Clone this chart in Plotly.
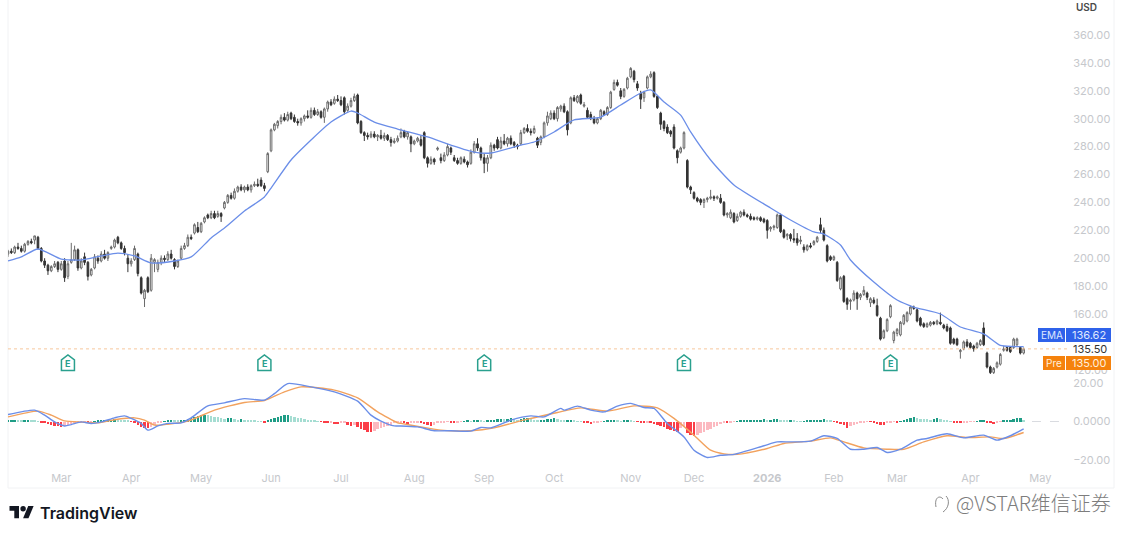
import plotly.graph_objects as go

# daily candles (USD)
opens = [
    203,205,204,208,207,205,210,212,213,215,
    207,198,195,191,194,197,192,198,187,197,
    199,206,193,201,197,188,193,200,198,203,
    200,207,208,215,211,207,200,196,199,203,
    186,171,186,177,197,192,197,200,199,203,
    199,194,200,207,209,215,218,222,219,226,
    231,229,232,230,232,236,240,245,243,248,
    251,249,251,249,252,253,256,252,262,277,
    292,295,298,301,299,304,301,298,297,300,
    302,301,306,303,305,301,307,312,311,314,
    313,315,306,309,313,317,298,290,288,287,
    289,287,288,286,288,285,283,284,287,291,
    287,287,282,284,285,290,272,268,271,278,
    272,270,274,279,272,270,268,271,269,268,
    276,282,279,272,268,272,281,285,279,284,
    282,286,283,281,282,290,293,291,290,286,
    283,287,297,300,304,300,307,309,305,297,
    315,312,317,309,306,303,300,297,300,305,
    303,308,321,326,320,316,322,330,334,325,
    318,315,322,330,333,316,304,298,294,291,
    294,277,276,279,270,251,247,243,242,240,
    242,243,244,243,243,240,231,229,232,227,
    230,233,231,230,229,228,229,228,227,221,
    222,222,231,220,216,217,214,214,212,208,
    206,209,210,212,224,220,209,201,199,197,
    178,187,171,169,170,175,172,174,175,168,
    170,166,157,143,148,158,141,146,145,153,
    155,160,165,163,157,153,151,152,154,153,
    154,152,151,150,142,142,133,135,140,139,
    137,136,138,150,132,122,118,122,124,134,
    136,136,136,138,136,132,
]
highs = [
    206,207,209,211,209,211,213,214,216,216,
    208,200,196,195,198,198,198,200,198,211,
    209,207,200,204,198,193,203,202,205,206,
    205,209,214,216,212,209,203,200,209,204,
    187,178,187,203,200,199,202,202,205,206,
    200,199,209,211,217,217,225,226,226,230,
    232,234,234,234,233,241,246,247,250,252,
    253,252,253,253,255,257,258,254,276,293,
    297,299,303,304,305,305,303,300,301,303,
    306,308,308,307,306,308,313,314,316,317,
    316,316,311,315,318,318,299,291,290,291,
    291,289,292,290,289,287,286,288,293,292,
    291,288,285,287,288,291,273,273,272,280,
    275,276,282,280,274,272,273,273,270,278,
    284,286,280,275,274,283,282,287,287,289,
    287,288,284,282,292,294,296,293,295,287,
    288,298,305,306,306,309,310,311,306,316,
    317,317,318,312,308,305,302,301,307,306,
    309,320,328,328,322,322,330,337,335,327,
    320,320,331,334,334,317,305,299,296,292,
    296,278,280,291,271,252,248,244,243,243,
    244,249,245,245,246,241,233,235,233,232,
    234,235,232,232,230,230,230,229,228,223,
    224,232,232,221,218,218,221,218,216,210,
    210,211,213,216,229,222,210,202,202,198,
    187,188,172,171,177,176,175,180,176,172,
    172,171,158,149,157,167,148,150,155,160,
    162,166,166,164,158,154,154,155,155,156,
    161,153,153,151,143,143,135,141,142,140,
    138,140,142,154,133,123,122,126,132,137,
    137,137,143,143,137,136,
]
lows = [
    201,203,203,206,204,204,209,210,210,206,
    197,193,188,190,193,190,191,183,185,196,
    198,191,192,195,184,187,192,196,197,199,
    198,206,207,210,206,202,190,194,198,187,
    174,165,175,176,190,190,195,197,198,199,
    192,193,199,206,208,213,217,218,218,225,
    228,228,228,229,226,235,239,242,242,247,
    248,247,248,247,251,251,251,248,261,276,
    291,293,296,298,298,299,297,295,295,298,
    300,300,302,302,300,297,305,309,310,312,
    309,303,305,308,312,296,289,284,285,286,
    286,284,285,284,284,280,282,283,286,286,
    285,276,281,283,280,271,265,267,267,277,
    268,269,273,274,269,267,267,268,265,267,
    275,277,270,261,262,271,277,278,278,281,
    280,281,279,278,281,289,290,288,289,279,
    281,286,295,299,299,298,305,304,288,296,
    312,311,310,308,300,299,296,296,299,302,
    302,307,320,323,314,315,321,329,326,320,
    307,312,321,329,315,307,292,291,289,287,
    278,268,275,278,250,246,242,240,238,236,
    240,242,241,242,239,230,229,228,225,226,
    229,230,229,227,227,227,226,225,214,219,
    220,221,218,214,213,212,211,209,210,204,
    205,207,209,211,218,212,197,198,198,183,
    177,168,163,163,169,163,170,173,170,165,
    167,158,141,142,147,157,139,144,144,152,
    154,159,163,154,151,150,150,151,152,152,
    152,149,147,138,138,137,128,134,136,135,
    133,135,137,137,121,117,117,121,123,133,
    133,132,135,137,131,131,
]
closes = [
    205,204,208,207,205,210,212,211,216,207,
    198,195,191,194,196,192,196,186,196,199,
    206,193,198,197,187,192,201,198,203,200,
    204,208,213,211,207,204,196,198,207,189,
    175,177,176,200,199,197,200,199,203,200,
    194,198,207,209,215,214,224,219,225,229,
    229,232,229,232,230,240,245,243,248,251,
    249,251,249,252,253,252,252,250,275,292,
    296,298,301,299,303,300,298,297,300,302,
    301,306,303,305,301,307,312,310,314,313,
    310,305,309,313,316,297,290,288,287,289,
    287,288,286,288,285,283,284,286,290,287,
    290,282,284,286,281,272,268,271,269,279,
    270,274,280,276,270,268,272,269,267,276,
    282,279,272,268,272,281,279,279,284,282,
    286,282,281,280,290,293,291,290,293,281,
    287,297,302,304,300,308,309,305,292,315,
    313,316,311,310,301,300,297,300,306,303,
    308,319,326,324,316,321,329,336,328,322,
    314,319,330,332,316,308,296,293,290,289,
    279,272,279,290,251,249,243,241,240,242,
    243,244,243,244,240,231,232,233,226,230,
    233,231,230,228,228,229,227,226,220,222,
    223,231,219,215,217,214,213,211,213,206,
    209,208,212,215,220,213,198,199,201,184,
    186,169,167,170,175,171,174,177,172,171,
    168,159,142,148,156,166,147,149,154,159,
    161,165,164,155,152,151,153,154,153,155,
    153,150,148,139,139,138,134,140,137,136,
    135,139,141,138,122,118,121,125,131,135,
    134,133,142,142,132,135,
]

ema_index = [0,4,9,16,22,28,33,38,43,50,55,61,65,71,77,79,85,91,97,103,105,110,117,126,133,140,145,154,158,164,170,178,184,190,193,197,202,205,211,218,229,235,242,245,250,253,260,267,272,280,286,293,298,302,305]
ema_values = [198,200.9,206.6,199.4,198.7,201.6,203.7,201.6,196.6,198,200.9,214.5,221.6,233.8,243.9,250.3,270.4,284.7,297.6,305.5,304.1,297.6,292.6,286.9,281.1,276.1,275.4,281.1,283.3,290.5,299.1,301.2,309.8,318.4,320.6,312,302.6,290.5,270.4,252.5,236,227.4,218.8,217.3,209.5,198.7,182.9,170,165,160,150.7,145.7,137.5,136.7,136.62]

macd_index = [0,8,11,14,17,19,22,25,28,32,35,37,40,42,45,48,52,55,60,65,71,77,80,84,91,98,105,109,112,116,118,123,128,133,139,142,145,151,157,161,166,167,171,175,179,183,187,191,194,198,203,206,210,214,218,227,231,235,241,245,249,253,257,261,264,268,273,276,282,287,293,297,301,305]
macd_values = [3.6,5.9,3.3,-0.2,-2.3,-1.6,-0.2,-1,-0.2,1.9,2.9,1.6,-1,-4.5,-2.3,-1,-0.7,1.9,8.1,9.7,11.9,11.1,14.5,19.7,18,15.4,10.6,3.3,0.2,-2.3,-2.3,-2.8,-4.8,-4.8,-5,-3.1,-3.3,0.7,2.9,2.4,6.8,5.9,8,5.9,5,8,9.4,7.3,6.8,-1,-8,-14.9,-18.7,-17.5,-17.1,-12.6,-10.6,-10.6,-10.2,-7.4,-8.8,-14.4,-14.4,-13.5,-16.1,-14.4,-9.7,-8.8,-6.4,-8.5,-7.1,-9.7,-7.4,-3.8]

signal_index = [0,9,13,17,22,27,32,38,41,44,48,54,62,71,77,83,88,98,105,111,117,118,124,130,139,146,156,165,172,180,188,195,200,206,211,215,219,228,233,238,241,247,251,257,264,269,275,282,288,295,299,305]
signal_values = [2.4,5.4,3.3,0.3,-0.3,-0.7,0.9,1.9,0.7,-1.9,-1.4,0.2,5.9,9.9,10.9,15.4,18,16.3,12.3,5,-0.7,-1,-2.8,-4.5,-4.8,-3.3,1.2,4.7,7.1,5.4,8.1,7.1,1.6,-7.1,-14.9,-16.8,-17.1,-14,-11.4,-10.6,-10.2,-8.5,-10.6,-13.7,-14.4,-14.4,-10.6,-7.4,-8.3,-8,-8.8,-5.7]

hist_values = [
    0.6,0.8,1.0,0.7,0.5,0.8,0.9,0.6,0.4,0.1,
    -0.4,-0.8,-1.3,-1.7,-2.1,-2.4,-2.8,-2.2,-1.7,-1.2,
    -0.8,-0.5,-0.3,-0.2,-0.3,-0.2,0.1,0.3,0.4,0.6,
    0.8,1.0,1.2,1.0,0.8,0.5,0.3,-0.2,-0.9,-1.8,
    -2.6,-3.2,-3.5,-2.6,-1.7,-1.0,-0.5,0.2,0.6,0.9,
    0.7,0.3,0.4,0.9,1.5,2.0,2.4,2.9,3.2,3.5,
    3.4,3.0,2.6,2.2,1.7,1.3,1.6,1.7,1.2,1.0,
    1.1,0.9,0.7,0.5,0.3,0.2,0.1,-0.4,0.3,1.2,
    2.0,2.6,3.1,3.4,3.6,3.0,2.5,2.0,1.6,1.2,
    0.9,0.6,0.4,0.1,-0.2,-0.6,-0.9,-0.6,-1.1,-1.3,
    -0.8,-0.4,-1.6,-2.2,-2.0,-3.0,-3.8,-4.5,-5.2,-5.6,
    -4.8,-4.1,-3.4,-2.8,-2.2,-1.6,-1.0,-0.6,-0.4,-0.9,
    -1.3,-0.7,-0.4,-0.3,-0.6,-1.3,-1.8,-2.2,-1.6,-0.7,
    -0.4,-0.3,-0.2,-0.3,-0.4,-0.3,-0.2,0.1,0.3,0.2,
    0.5,0.6,0.3,0.2,0.4,0.6,0.9,1.2,1.5,1.1,
    1.4,1.6,1.3,0.8,1.2,1.6,1.8,1.2,0.7,0.4,
    0.7,1.0,1.2,1.5,1.9,1.3,0.6,0.3,0.6,0.9,
    0.5,0.2,0.1,-0.5,-0.9,-1.2,-0.7,-0.4,-0.2,0.1,
    0.4,0.7,1.0,0.5,0.2,0.5,0.8,0.4,0.1,-0.2,
    -0.6,-0.8,-0.3,-0.8,-1.3,-1.9,-2.5,-3.1,-3.7,-4.3,
    -4.9,-5.5,-3.6,-2.6,-6.0,-6.8,-7.5,-7.0,-6.2,-5.4,
    -4.6,-3.8,-3.0,-2.2,-1.4,-0.7,-0.9,-0.3,-0.1,0.2,
    0.4,0.5,0.6,0.7,0.8,0.9,1.0,1.1,0.6,0.8,
    1.1,1.3,0.8,0.5,0.3,0.4,0.3,0.2,0.1,0.1,
    0.4,0.6,0.7,0.9,1.0,1.2,0.7,0.3,-0.1,-0.5,
    -1.2,-2.0,-3.2,-2.2,-1.6,-1.1,-0.6,-0.3,-0.1,-0.2,
    -0.6,-1.2,-1.6,-2.0,-1.0,-0.4,-0.2,-0.3,0.1,0.6,
    1.1,1.6,2.1,1.7,1.4,1.3,1.1,1.0,1.3,1.6,
    1.2,0.8,0.3,0.2,-0.3,-0.5,-0.9,-0.5,-0.3,-0.2,
    -0.1,0.2,0.3,0.4,-0.4,-0.8,-1.2,-0.7,-0.2,0.4,
    0.7,1.0,1.4,1.7,2.0,1.0,
]

month_labels = ["Mar", "Apr", "May", "Jun", "Jul", "Aug", "Sep", "Oct", "Nov", "Dec", "<b>2026</b>", "Feb", "Mar", "Apr", "May"]
month_index = [16, 37, 58, 79, 100, 122, 143, 164, 187, 206, 228, 248, 267, 289, 310]
price_ticks = [120, 160, 180, 200, 220, 240, 260, 280, 300, 320, 340, 360]
earnings_index = [18, 77, 143, 203, 265]

WIDTH, HEIGHT = 1123, 538
LEFT, RIGHT, TOP, BOTTOM = 8, 55, 0, 68
plot_w = WIDTH - LEFT - RIGHT
plot_h = HEIGHT - TOP - BOTTOM
GREY = "#c6c8cc"

# pixel position on the page -> paper coordinates
def px(x):
    return (x - LEFT) / plot_w

def py(y):
    return (HEIGHT - BOTTOM - y) / plot_h

x = list(range(len(closes)))

# TradingView macd colours: strong while moving away from zero, pale coming back
hist_colors = []
for i, v in enumerate(hist_values):
    prev = hist_values[i - 1] if i > 0 else 0
    if v >= 0:
        hist_colors.append("#1f9d86" if v >= prev else "#a5ddd2")
    else:
        hist_colors.append("#fb3d47" if v <= prev else "#fcb9c0")

fig = go.Figure()
fig.add_trace(go.Bar(x=x, y=hist_values, marker=dict(color=hist_colors, line_width=0), width=0.72,
                     yaxis="y2", showlegend=False))
fig.add_trace(go.Scatter(x=signal_index, y=signal_values, mode="lines", yaxis="y2", showlegend=False,
                         line=dict(color="#f2a25e", width=1.4, shape="spline", smoothing=0.6)))
fig.add_trace(go.Scatter(x=macd_index, y=macd_values, mode="lines", yaxis="y2", showlegend=False,
                         line=dict(color="#6b8ee8", width=1.4, shape="spline", smoothing=0.6)))
fig.add_trace(go.Scatter(x=ema_index, y=ema_values, mode="lines", showlegend=False,
                         line=dict(color="#6b8ee8", width=1.3, shape="spline", smoothing=0.6)))
fig.add_trace(go.Candlestick(x=x, open=opens, high=highs, low=lows, close=closes, showlegend=False,
                             whiskerwidth=0,
                             increasing=dict(line=dict(color="#6a6a6a", width=1), fillcolor="#ffffff"),
                             decreasing=dict(line=dict(color="#333333", width=1), fillcolor="#333333")))

shapes = [
    # panel border
    dict(type="rect", xref="paper", yref="paper", x0=px(8), x1=px(1114), y0=py(488), y1=py(-2),
         line=dict(color="#f1f2f4", width=1), layer="below"),
    # previous close line
    dict(type="line", xref="paper", yref="y", x0=0, x1=1, y0=135, y1=135,
         line=dict(color="#f7c79c", width=1, dash="dot")),
    # macd zero line past the last bar
    dict(type="line", xref="x", yref="y2", x0=307.5, x1=317, y0=0, y1=0,
         line=dict(color="#d9dbe0", width=1, dash="dash")),
]

annotations = []

# earnings flags
for i in earnings_index:
    shapes.append(dict(type="path", xref="x", yref="y", xsizemode="pixel", ysizemode="pixel",
                       xanchor=i, yanchor=124.9,
                       path="M -6.5 -7.5 L 6.5 -7.5 L 6.5 3 L 0 8 L -6.5 3 Z",
                       fillcolor="#ffffff", line=dict(color="#2aa08e", width=1.5)))
    annotations.append(dict(x=i, y=124.9, xref="x", yref="y", text="E", showarrow=False, yshift=-1,
                            font=dict(family="Inter", size=9, color="#2aa08e", weight=700)))

# TradingView logo, the mark is drawn from its glyph outline
LOGO_S = 0.68
def logo_x(v):
    return 9.5 - LEFT + v * LOGO_S

def logo_y(v):
    return HEIGHT - BOTTOM - (503.3 + v * LOGO_S)

def logo_path(points):
    return "M " + " L ".join(f"{logo_x(a):.1f} {logo_y(b):.1f}" for a, b in points) + " Z"

logo_t = [(14, 22), (7, 22), (7, 11), (0, 11), (0, 4), (14, 4)]
logo_v = [(28, 22), (20, 22), (27.5, 4), (35.5, 4)]
for pts in (logo_t, logo_v):
    shapes.append(dict(type="path", xref="paper", yref="paper", xsizemode="pixel", ysizemode="pixel",
                       xanchor=0, yanchor=0, path=logo_path(pts), fillcolor="#131722", line_width=0))
shapes.append(dict(type="circle", xref="paper", yref="paper", xsizemode="pixel", ysizemode="pixel",
                   xanchor=0, yanchor=0, x0=logo_x(16), x1=logo_x(24), y0=logo_y(12), y1=logo_y(4),
                   fillcolor="#131722", line_width=0))

# weibo style mark next to the watermark
shapes.append(dict(type="path", xref="paper", yref="paper", xsizemode="pixel", ysizemode="pixel",
                   xanchor=0, yanchor=0,
                   path=f"M {936-LEFT} {HEIGHT-BOTTOM-507} C {934-LEFT} {HEIGHT-BOTTOM-497} {940-LEFT} {HEIGHT-BOTTOM-495} {943-LEFT} {HEIGHT-BOTTOM-499}"
                        f" M {946-LEFT} {HEIGHT-BOTTOM-496} C {950-LEFT} {HEIGHT-BOTTOM-500} {949-LEFT} {HEIGHT-BOTTOM-508} {943-LEFT} {HEIGHT-BOTTOM-512}",
                   line=dict(color="#8a8a8a", width=1)))

def label_box(x0, x1, y0, y1, color):
    shapes.append(dict(type="rect", xref="paper", yref="paper", x0=px(x0), x1=px(x1), y0=py(y1), y1=py(y0),
                       fillcolor=color, line_width=0))

def page_text(x_pos, y_pos, text, size, color, anchor="center", family="Inter", weight=400):
    annotations.append(dict(x=px(x_pos), y=py(y_pos), xref="paper", yref="paper", text=text, showarrow=False,
                            xanchor=anchor, yanchor="middle", xshift=0, borderpad=0,
                            font=dict(family=family, size=size, color=color, weight=weight)))

# price badges
label_box(1038, 1065, 328, 342, "#2f62ea")
label_box(1066, 1111, 328, 342, "#2f62ea")
label_box(1043, 1065, 356, 370, "#f5820d")
label_box(1066, 1111, 356, 370, "#f5820d")
page_text(1051.5, 335, "EMA", 10, "#dfe8ff")
page_text(1088.5, 335, "136.62", 11, "#dfe8ff")
page_text(1054, 363, "Pre", 10, "#fff0df")
page_text(1088.5, 363, "135.00", 11, "#fff0df")
page_text(1089.5, 349, "135.50", 11, "#333333")
page_text(1086, 7, "USD", 10, "#4a4a4a", weight=600)
page_text(39, 513, "TradingView", 16, "#131722", anchor="left", weight=600)
page_text(955, 503, "@VSTAR维信证券", 20, "#7d7d7d", anchor="left", family="Noto Sans CJK SC", weight=300)

price_px = 1.395
fig.update_layout(
    width=WIDTH, height=HEIGHT,
    margin=dict(l=LEFT, r=RIGHT, t=TOP, b=BOTTOM),
    paper_bgcolor="#ffffff", plot_bgcolor="#ffffff",
    font=dict(family="Inter", size=11, color=GREY),
    bargap=0, showlegend=False,
    xaxis=dict(range=[0, plot_w / 3.33], rangeslider_visible=False, showgrid=False, zeroline=False,
               anchor="y2", tickvals=month_index, ticktext=month_labels, ticks="", showline=False,
               tickfont=dict(size=11, color=GREY)),
    yaxis=dict(domain=[py(375), 1], range=[160 + (314 - 375) / price_px, 160 + 314 / price_px],
               side="right", showgrid=False, zeroline=False, tickvals=price_ticks, tickformat=".2f",
               ticks="outside", ticklen=2, tickcolor="#ffffff", tickfont=dict(size=11, color=GREY)),
    yaxis2=dict(domain=[0, py(375)], range=[(421.5 - 470) / 1.925, (421.5 - 375) / 1.925],
                side="right", showgrid=False, zeroline=False, tickvals=[-20, 0, 20],
                ticktext=["\u221220.00", "0.0000", "20.00"],
                ticks="outside", ticklen=2, tickcolor="#ffffff", tickfont=dict(size=11, color=GREY)),
    shapes=shapes, annotations=annotations,
)

# the browser's default body margin would push the page down and right
fig.write_html("out.html", config={"displayModeBar": False}, post_script="document.body.style.margin='0';")
